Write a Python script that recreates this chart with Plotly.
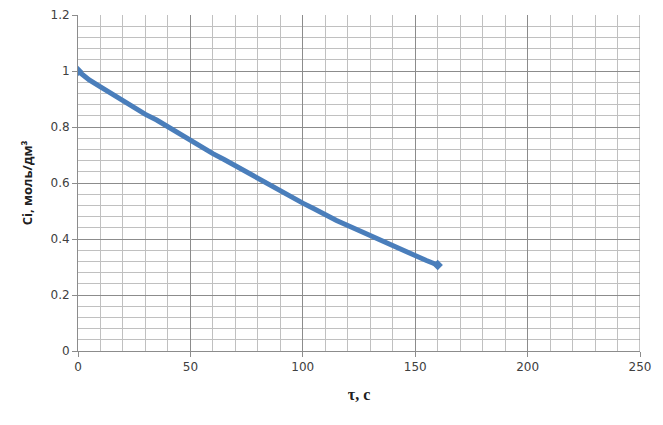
import plotly.graph_objects as go

tau = [0, 5, 10, 15, 20, 25, 30, 35, 40, 45, 50, 55, 60, 65, 70, 75, 80,
       85, 90, 95, 100, 105, 110, 115, 120, 125, 130, 135, 140, 145, 150, 155, 160]
ci = [1.000, 0.968, 0.943, 0.918, 0.895, 0.866, 0.845, 0.825, 0.800, 0.775,
      0.753, 0.727, 0.705, 0.684, 0.661, 0.640, 0.617, 0.596, 0.574, 0.551,
      0.528, 0.508, 0.486, 0.466, 0.448, 0.430, 0.411, 0.393, 0.375, 0.356,
      0.339, 0.323, 0.307]

x_title = "τ, с"
y_title = "Ci, моль/дм³"

fig = go.Figure()
fig.add_trace(go.Scatter(
    x=tau, y=ci, mode="lines",
    line=dict(color="#4A7EBB", width=5),
    showlegend=False,
))
# end markers
fig.add_trace(go.Scatter(
    x=[tau[0], tau[-1]], y=[ci[0], ci[-1]], mode="markers",
    marker=dict(symbol="diamond", size=8, color="#4A7EBB"),
    showlegend=False,
))

# page body has an 8px default margin; compensate so the plot sits where the reference does
fig.update_layout(
    width=663, height=425,
    margin=dict(l=70, r=31, t=7, b=82),
    paper_bgcolor="white", plot_bgcolor="white",
    font=dict(family="DejaVu Sans", size=12, color="#404040"),
)
fig.update_xaxes(
    range=[0, 250], dtick=50, tick0=0, automargin=False,
    showgrid=True, gridcolor="#8C8C8C", gridwidth=1,
    minor=dict(dtick=10, showgrid=True, gridcolor="#C0C0C0", gridwidth=1),
    showline=True, linecolor="#8C8C8C", linewidth=1,
    ticks="outside", ticklen=5, tickcolor="#8C8C8C",
    mirror=False, zeroline=False,
    tickfont=dict(size=12, color="#404040"),
    title=dict(text="<b>" + x_title + "</b>", font=dict(family="Liberation Serif", size=16, color="#202020"), standoff=15),
)
fig.update_yaxes(
    range=[0, 1.2], dtick=0.2, tick0=0, automargin=False,
    showgrid=True, gridcolor="#8C8C8C", gridwidth=1,
    minor=dict(dtick=0.04, showgrid=True, gridcolor="#C0C0C0", gridwidth=1),
    showline=True, linecolor="#8C8C8C", linewidth=1,
    ticks="outside", ticklen=5, tickcolor="#8C8C8C",
    zeroline=False,
    tickfont=dict(size=12, color="#404040"),
    title=dict(text="<b>" + y_title + "</b>", font=dict(family="Open Sans", size=13, color="#202020"), standoff=14),
)
# right border at x = 250
fig.add_shape(type="line", xref="x", yref="paper", x0=250, x1=250, y0=0, y1=1,
              line=dict(color="#8C8C8C", width=1))

fig.write_html("out.html")
